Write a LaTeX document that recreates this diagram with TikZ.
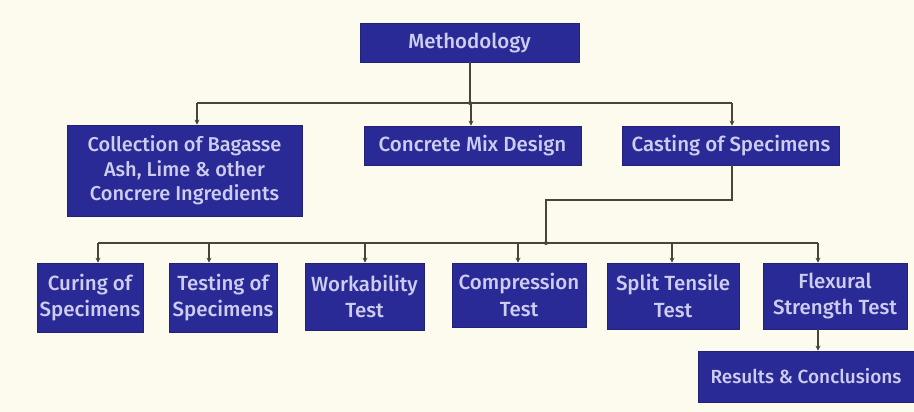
\documentclass[tikz,border=0pt]{standalone}
\usepackage{fontspec}
\setmainfont{Fira Sans}[UprightFont={* Medium}]
\usetikzlibrary{arrows.meta,calc}
\definecolor{bg}{RGB}{253,251,238}
\definecolor{boxfill}{RGB}{42,42,150}
\definecolor{boxtext}{RGB}{205,205,240}
\definecolor{wire}{RGB}{70,70,55}
\tikzset{
  box/.style={draw=boxfill!80!black, line width=0.6pt, fill=boxfill, text=boxtext, font=\fontsize{20.5}{26.5}\selectfont, align=center, inner sep=0pt, anchor=center},
  smallbox/.style={box, font=\fontsize{20}{24.5}\selectfont},
  wirel/.style={draw=wire, line width=1.4pt},
  arr/.style={wirel, -{Stealth[length=5pt,width=5pt]}},
  jdot/.style={circle, fill=wire, inner sep=0pt, minimum size=4pt}
}
\begin{document}
\begin{tikzpicture}[x=1pt,y=-1pt]
\useasboundingbox[fill=bg] (0,0) rectangle (914,412);
\node[box, minimum width=219pt, minimum height=39pt] (meth) at (469.5,42.5) {Methodology};
\node[smallbox, minimum width=235pt, minimum height=91pt] (coll) at (184.5,170.5) {Collection of Bagasse\\Ash, Lime \& other\\Concrere Ingredients};
\node[box, minimum width=217pt, minimum height=39pt] (mix) at (472.5,145.5) {Concrete Mix Design};
\node[box, minimum width=217pt, minimum height=39pt] (cast) at (731,145.5) {Casting of Specimens};
\node[box, minimum width=106pt, minimum height=69pt] (cur) at (90,297.5) {Curing of\\Specimens};
\node[box, minimum width=108pt, minimum height=69pt] (tst) at (223,297.5) {Testing of\\Specimens};
\node[box, minimum width=119pt, minimum height=67pt] (wrk) at (364.5,296.5) {Workability\\Test};
\node[box, minimum width=134pt, minimum height=64pt] (cmp) at (519,295) {Compression\\Test};
\node[box, minimum width=132pt, minimum height=66pt] (spl) at (673,296) {Split Tensile\\Test};
\node[box, minimum width=144pt, minimum height=66pt] (flx) at (835,296) {Flexural\\Strength Test};
\node[box, font=\fontsize{19}{24}\selectfont, minimum width=216pt, minimum height=51pt] (res) at (806,376.5) {Results \& Conclusions};
% top bus
\coordinate (j1) at (470,103);
\coordinate (b1L) at (197,103);
\coordinate (b1M) at (471,103);
\coordinate (b1R) at (732,103);
\draw[wirel] (meth.south -| j1) -- (j1);
\draw[wirel] (b1L) -- (b1R);
\node[jdot] at (j1) {};
\draw[arr] (b1L) -- (b1L |- coll.north);
\draw[arr] (b1M) -- (b1M |- mix.north);
\draw[arr] (b1R) -- (b1R |- cast.north);
% second bus
\coordinate (c1) at (732,200);
\coordinate (c2) at (546,200);
\coordinate (j2) at (546,243);
\draw[wirel] (cast.south -| c1) -- (c1) -- (c2) -- (j2);
\node[jdot] at (j2) {};
\coordinate (b2a) at (98,243);
\coordinate (b2b) at (209,243);
\coordinate (b2c) at (365,243);
\coordinate (b2d) at (518,243);
\coordinate (b2e) at (672,243);
\coordinate (b2f) at (818,243);
\draw[wirel] (b2a) -- (b2f);
\draw[arr] (b2a) -- (b2a |- cur.north);
\draw[arr] (b2b) -- (b2b |- tst.north);
\draw[arr] (b2c) -- (b2c |- wrk.north);
\draw[arr] (b2d) -- (b2d |- cmp.north);
\draw[arr] (b2e) -- (b2e |- spl.north);
\draw[arr] (b2f) -- (b2f |- flx.north);
\coordinate (f1) at (818,329);
\draw[arr] (flx.south -| f1) -- (f1 |- res.north);
\end{tikzpicture}
\end{document}
